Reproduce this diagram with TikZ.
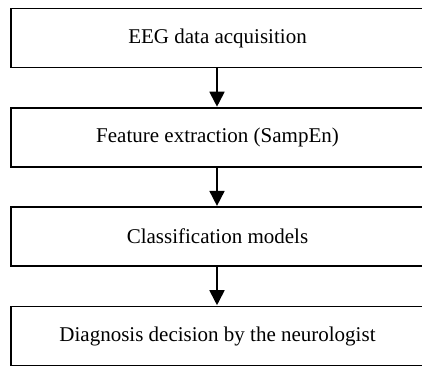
\documentclass[tikz,border=0pt]{standalone}
\usepackage{fontspec}
\setmainfont{Liberation Serif}
\usetikzlibrary{arrows.meta}
\begin{document}
\begin{tikzpicture}[x=1pt,y=-1pt,
  stagebox/.style={draw=black, line width=1.6pt, rectangle, minimum width=413pt, minimum height=59pt, inner sep=0pt, font=\fontsize{21}{25}\selectfont, anchor=center},
  flowarrow/.style={draw=black, line width=1.8pt, -{Triangle[length=15pt,width=15pt]}, shorten >=0.5pt}]
\useasboundingbox (0,0) rectangle (422,365);
\node[stagebox] (s1) at (217.5,38) {EEG data acquisition};
\node[stagebox] (s2) at (217.5,137.5) {Feature extraction (SampEn)};
\node[stagebox] (s3) at (217.5,236.7) {Classification models};
\node[stagebox] (s4) at (217.5,336) {Diagnosis decision by the neurologist};
\draw[flowarrow] (s1.south -| 217,0) -- (s2.north -| 217,0);
\draw[flowarrow] (s2.south -| 217,0) -- (s3.north -| 217,0);
\draw[flowarrow] (s3.south -| 217,0) -- (s4.north -| 217,0);
\end{tikzpicture}
\end{document}
